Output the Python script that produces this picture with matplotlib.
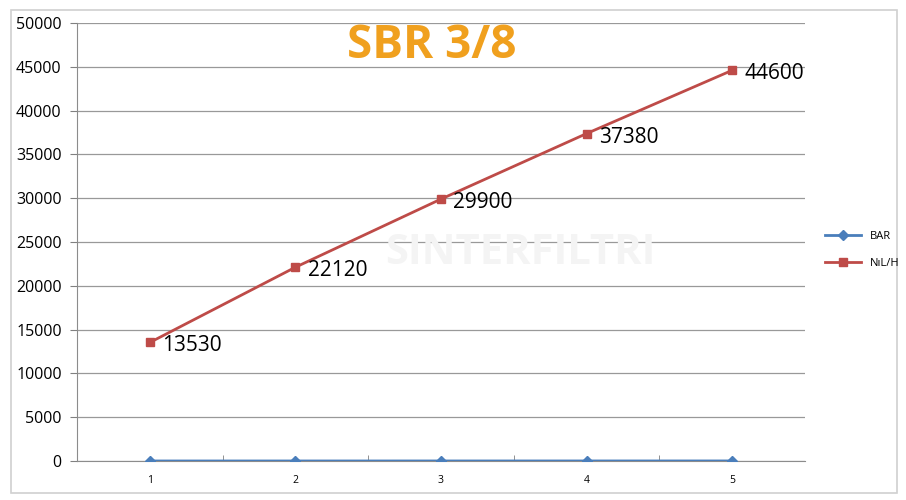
import matplotlib
matplotlib.use("Agg")
import matplotlib.pyplot as plt
from matplotlib.patches import Rectangle

categories = [1, 2, 3, 4, 5]
bar_values = [2, 3, 4, 5, 6]
nlh_values = [13530, 22120, 29900, 37380, 44600]
y_ticks = [0, 5000, 10000, 15000, 20000, 25000, 30000, 35000, 40000, 45000, 50000]

plt.rcParams['font.family'] = ['Open Sans', 'DejaVu Sans']

fig = plt.figure(figsize=(9.06, 5.0), dpi=100)
fig.patches.append(Rectangle((11/906, 7/500), 886/906, 483/500, transform=fig.transFigure,
                             fill=False, edgecolor='#d0d0d0', linewidth=1.2))
ax = fig.add_axes([77/906, 39/500, 728/906, 438/500])

x = list(range(len(categories)))
ax.plot(x, bar_values, color='#4a7ebb', linewidth=2, marker='D', markersize=5, label='BAR', zorder=3)
ax.plot(x, nlh_values, color='#be4b48', linewidth=2, marker='s', markersize=6, label='N\u0131L/H', zorder=3)

for xi, v in zip(x, nlh_values):
    ax.annotate(f"{v}", (xi, v), xytext=(9, -2.5), textcoords='offset points',
                ha='left', va='center', fontsize=15, color='#000000')

ax.set_xlim(-0.5, len(categories) - 0.5)
ax.set_ylim(0, 50000)
ax.set_yticks(y_ticks)
ax.set_yticklabels([str(t) for t in y_ticks], fontsize=11.5)
ax.set_xticks(x)
ax.set_xticklabels([str(c) for c in categories], fontsize=7.5)
ax.set_xticks([i + 0.5 for i in x[:-1]], minor=True)
ax.tick_params(axis='x', which='major', length=0, pad=10)
ax.tick_params(axis='x', which='minor', length=4, direction='in', color='#808080')
ax.tick_params(axis='y', length=5, color='#808080', pad=6)
ax.grid(axis='y', color='#999999', linewidth=0.9)
ax.set_axisbelow(True)
for s in ['top', 'right']:
    ax.spines[s].set_visible(False)
ax.spines['left'].set_color('#8c8c8c')
ax.spines['bottom'].set_color('#8c8c8c')

fig.text(432/906, 455/500, 'SBR 3/8', ha='center', va='center',
         fontsize=33, fontweight='bold', color='#f0a01e')
fig.text(520/906, 247/500, 'SINTERFILTRI', ha='center', va='center', fontsize=30,
         fontweight='bold', color='#f4f4f4', zorder=0)

fig.legend(loc='center left', bbox_to_anchor=(815/906, 250/500), frameon=False, fontsize=8,
           handlelength=3.2, labelspacing=1.5)

fig.savefig('out.png', dpi=100)
